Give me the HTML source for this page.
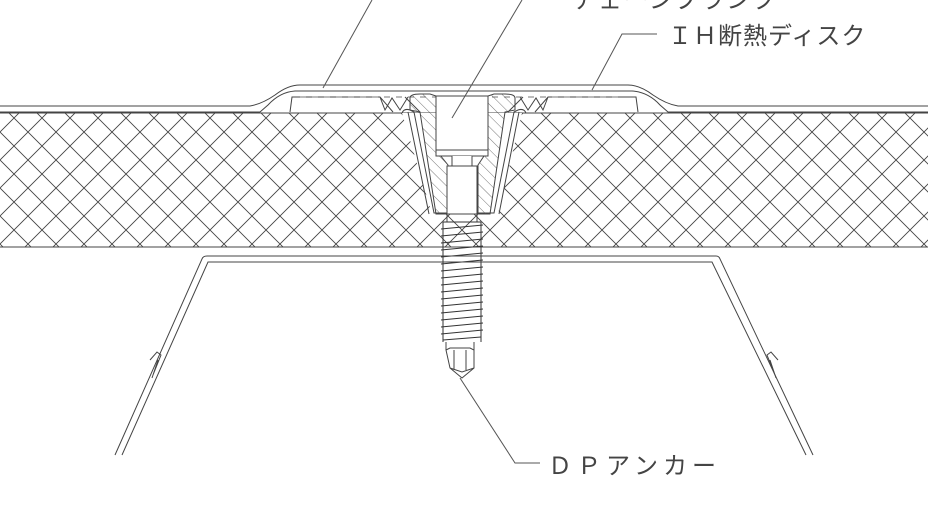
<!DOCTYPE html>
<html><head><meta charset="utf-8"><style>
html,body{margin:0;padding:0;background:#fff;}
svg{display:block}
text{font-family:"Liberation Sans","Noto Sans CJK JP",sans-serif;fill:#444;}
</style></head><body>
<svg width="928" height="522" viewBox="0 0 928 522" xmlns="http://www.w3.org/2000/svg">
<defs>
<pattern id="xh" width="28" height="28" patternUnits="userSpaceOnUse" x="0" y="104">
<path d="M0,0 L28,28 M28,0 L0,28" stroke="#444" stroke-width="0.9" fill="none"/>
</pattern>
<pattern id="dh" width="8" height="8" patternUnits="userSpaceOnUse" patternTransform="rotate(-45)">
<path d="M0,0 L0,8" stroke="#555" stroke-width="0.8"/>
</pattern>
</defs>
<g fill="none" stroke="#444" stroke-width="1">
<rect x="0" y="113" width="928" height="134" fill="url(#xh)" stroke="none"/>
<path d="M0,113 H928 M0,247 H928"/>
<path d="M402,113 L432,214 H498 L522,113 Z" fill="#fff" stroke="none"/>
<path d="M0,106 H250 Q262,104 275,95 Q288,85 300,85 H628 Q640,85 653,95 Q666,104 678,106 H928"/>
<path d="M0,112 H260 L268,105 Q280,92 295,91 H632 Q648,92 660,105 L668,112 H928"/>
<path d="M290,112 L292,97 H380 L393,112 M420,112 L405,97 M380,97 L385,110 L392,98 L400,110 L408,97" />
<path d="M638,112 L636,97 H548 L535,112 M508,112 L523,97 M548,97 L543,110 L536,98 L528,110 L520,97"/>
<path d="M300,97 H620" stroke-dasharray="6 6" stroke="#777"/>
<path d="M402,113 Q404,108 410,110 L414,112 L434,213 H494 L514,112 L518,110 Q524,108 526,113" />
<path d="M408,112 L429,214 M519,112 L499,214"/>
<path d="M410,98 Q410,94 420,94 H430 L436,96 V150 L448,165 V214 H478 V165 L488,150 V96 L494,94 H505 Q515,94 515,98 L515,110 L505,112 L490,214 H436 L420,112 L410,110 Z" fill="url(#dh)"/>
<rect x="436" y="96" width="52" height="54" fill="#fff"/>
<path d="M436,150 H488 V156 H436 Z" fill="#fff"/>
<path d="M452,156 V166 Q462,172 472,166 V156" fill="#fff"/>
<rect x="447" y="166" width="30" height="48" fill="#fff"/>
<path d="M447,214 V222 M477,214 V222"/>
<g stroke="#333">
<path d="M443,222 H481 M441,229 L483,225 M441,236 L483,232 M441,243 L483,239 M441,250 L483,246 M441,257 L483,253 M441,264 L483,260 M441,271 L483,267 M441,278 L483,274 M441,285 L483,281 M441,292 L483,288 M441,299 L483,295 M441,306 L483,302 M441,313 L483,309 M441,320 L483,316 M441,327 L483,323 M441,334 L483,330 M443,340 L481,337"/>
<path d="M443,222 V342 M481,222 V342"/>
</g>
<path d="M446,342 V350 M474,342 V350 M446,350 L450,348 H470 L474,350 V368 L462,378 L450,368 Z M454,350 V370 M466,350 V370 M450,368 L462,372 L474,368"/>
<path d="M115,455 L202,259 Q203,256 207,256 H716 Q719,256 720,259 L813,455"/>
<path d="M122,455 L208,262 H712 L806,455"/>
<path d="M150,360 L157,352 L161,355 L153,375 M152,378 L158,360 M778,360 L771,352 L767,355 L775,375 M776,378 L770,360"/>
<path d="M372,0 L323,88" stroke="#555"/>
<path d="M522,0 L452,118" stroke="#555"/>
<path d="M657,34 H622 L592,90" stroke="#555"/>
<path d="M460,378 L515,463 H540" stroke="#555"/>
</g>
<text x="572" y="8" font-size="24" letter-spacing="2">チェーンブランク</text>
<text x="668" y="44" font-size="24" letter-spacing="1">ＩＨ断熱ディスク</text>
<text x="548" y="474" font-size="24" letter-spacing="5">ＤＰアンカー</text>
</svg>
</body></html>
